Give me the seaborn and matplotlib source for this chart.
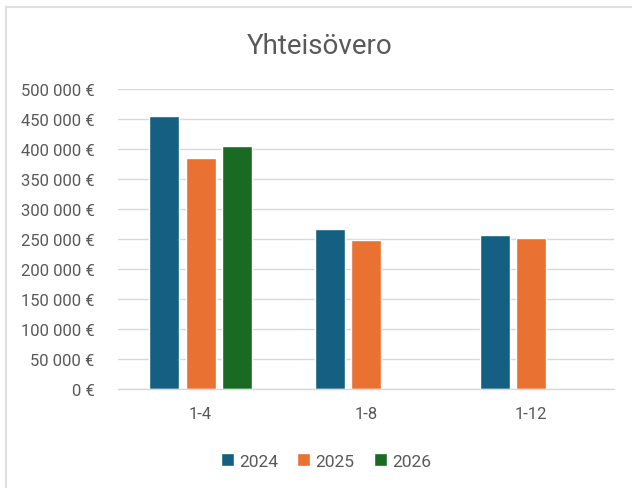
import matplotlib
matplotlib.use("Agg")
import matplotlib.pyplot as plt
from matplotlib.patches import Rectangle
from matplotlib.ticker import FuncFormatter, MultipleLocator
import seaborn as sns
import pandas as pd

# Corporate tax revenue by cumulative period
periods = ["1-4", "1-8", "1-12"]
years = ["2024", "2025", "2026"]
values_2024 = [455500, 266000, 257000]
values_2025 = [385500, 248000, 251000]
values_2026 = [404500]

colors = ["#156082", "#E97132", "#196B24"]
text_gray = "#595959"
grid_gray = "#D9D9D9"

rows = []
for yr, vals in zip(years, [values_2024, values_2025, values_2026]):
    for p, v in zip(periods, vals):
        rows.append({"Jakso": p, "Vuosi": yr, "Vero": v})
df = pd.DataFrame(rows)

sns.set_theme(style="white")
plt.rcParams["font.family"] = ["Roboto", "DejaVu Sans"]

fig = plt.figure(figsize=(6.32, 4.89), dpi=100)
ax = fig.add_axes([118 / 632, 1 - 390 / 489, (614 - 118) / 632, 300 / 489])

sns.barplot(data=df, x="Jakso", y="Vero", hue="Vuosi", order=periods,
            hue_order=years, palette=colors, width=0.66, gap=0.18,
            ax=ax, legend=True, saturation=1)

ax.set_ylim(0, 500000)
ax.yaxis.set_major_locator(MultipleLocator(50000))
ax.yaxis.set_major_formatter(
    FuncFormatter(lambda v, _: f"{int(v):,} €".replace(",", " ")))
ax.grid(axis="y", color=grid_gray, linewidth=1)
ax.set_axisbelow(True)
for s in ["left", "right", "top"]:
    ax.spines[s].set_visible(False)
ax.spines["bottom"].set_color(grid_gray)
ax.spines["bottom"].set_linewidth(1)
ax.tick_params(axis="both", length=0, colors=text_gray, labelsize=12)
ax.tick_params(axis="y", pad=17)
ax.tick_params(axis="x", pad=12)
ax.set_xlabel("")
ax.set_ylabel("")

fig.text(320 / 632, 1 - 46 / 489, "Yhteisövero", ha="center", va="center",
         fontsize=20, color=text_gray)

handles, labels = ax.get_legend_handles_labels()
ax.legend_.remove()
fig.legend(handles, labels, loc="center", bbox_to_anchor=(326 / 632, 1 - 462 / 489),
           ncol=3, frameon=False, fontsize=12.5, handlelength=0.75, handleheight=0.75,
           handletextpad=0.3, columnspacing=1.1, labelcolor=text_gray)

# chart area border
fig.patches.append(Rectangle((6 / 632, -0.1), 1.2, 1 - 8 / 489 + 0.1,
                             transform=fig.transFigure, fill=False,
                             edgecolor="#E0E0E0", linewidth=1.5))

fig.savefig("out.png", dpi=100)
